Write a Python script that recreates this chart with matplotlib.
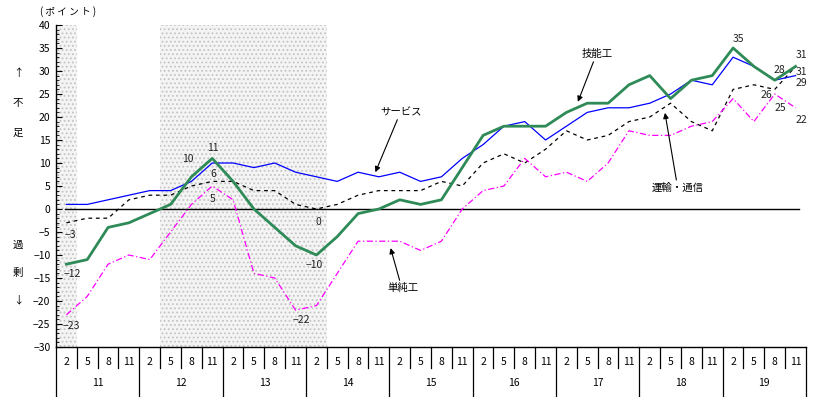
import numpy as np
import matplotlib
matplotlib.use("Agg")
import matplotlib.pyplot as plt

plt.rcParams['font.family'] = ['Noto Sans CJK JP', 'DejaVu Sans']

# quarters: 2011 Feb .. 2019 Nov
months = ['2', '5', '8', '11']
years = ['11', '12', '13', '14', '15', '16', '17', '18', '19']

# 技能工 (skilled workers)
ginou = [-12, -11, -4, -3, -1, 1, 7, 11, 6, 0, -4, -8, -10, -6, -1, 0, 2, 1,
         2, 9, 16, 18, 18, 18, 21, 23, 23, 27, 29, 24, 28, 29, 35, 31, 28, 31]
# サービス
service = [1, 1, 2, 3, 4, 4, 6, 10, 10, 9, 10, 8, 7, 6, 8, 7, 8, 6,
           7, 11, 14, 18, 19, 15, 18, 21, 22, 22, 23, 25, 28, 27, 33, 31, 28, 29]
# 運輸・通信
unyu = [-3, -2, -2, 2, 3, 3, 5, 6, 6, 4, 4, 1, 0, 1, 3, 4, 4, 4,
        6, 5, 10, 12, 10, 13, 17, 15, 16, 19, 20, 23, 19, 17, 26, 27, 26, 31]
# 単純工
tanjun = [-23, -19, -12, -10, -11, -5, 1, 5, 2, -14, -15, -22, -21, -14, -7, -7, -7, -9,
          -7, 0, 4, 5, 11, 7, 8, 6, 10, 17, 16, 16, 18, 19, 24, 19, 25, 22]

# shaded periods (quarter index ranges)
shade = [(0, 0), (5, 12)]

n = len(ginou)
x = np.arange(n)

fig = plt.figure(figsize=(8.2, 3.97), dpi=100)
ax = fig.add_axes([56 / 820, 50 / 397, 750 / 820, 322 / 397])

plt.rcParams['hatch.linewidth'] = 0.8
for a, b in shade:
    ax.axvspan(a - 0.5, b + 0.5, facecolor='#f4f4f4', edgecolor='#c4c4c4',
               hatch='....', lw=0, zorder=0)

ax.plot([-0.05, n - 0.85], [0, 0], color='black', lw=1.0, zorder=1)

ax.plot(x, unyu, color='black', lw=0.9, dashes=(3, 3), zorder=2)
ax.plot(x, tanjun, color='#ff00ff', lw=0.9, dashes=(5, 2, 1, 2), zorder=2)
ax.plot(x, service, color='#0000ff', lw=0.9, zorder=3)
ax.plot(x, ginou, color='#2e8b57', lw=2.0, zorder=4)

ax.set_xlim(-0.5, n - 0.5)
ax.set_ylim(-30, 40)
ax.set_yticks(np.arange(-30, 41, 5))
ax.set_yticks(np.arange(-30, 41, 1), minor=True)
ax.tick_params(axis='y', which='major', direction='in', length=4, width=0.8,
               labelsize=7.5, pad=4)
ax.tick_params(axis='y', which='minor', direction='in', length=2, width=0.6)
ax.set_yticklabels([str(v).replace('-', '−') for v in range(-30, 41, 5)])
ax.set_xticks([])
for s in ['top', 'right']:
    ax.spines[s].set_visible(False)
ax.spines['left'].set_linewidth(1.0)
ax.spines['bottom'].set_linewidth(1.0)

# month / year table below the axis
tr = ax.get_xaxis_transform()
for k in range(n + 1):
    xb = k - 0.5
    bottom = -0.155 if k % 4 == 0 else -0.065
    ax.plot([xb, xb], [0, bottom], color='black', lw=0.9, transform=tr, clip_on=False)
for i in range(n):
    ax.text(i, -0.047, months[i % 4], transform=tr, ha='center', va='center', fontsize=7.5)
for j, yr in enumerate(years):
    ax.text(j * 4 + 1.5, -0.112, yr, transform=tr, ha='center', va='center', fontsize=7.5)


def lab(val, i, dx, dy):
    ax.annotate(str(val).replace('-', '−'), (i, val), xytext=(dx, dy),
                textcoords='offset pixels', ha='center', va='center',
                fontsize=7.5, color='#222222', zorder=6)


lab(unyu[0], 0, 4, -12)
lab(ginou[0], 0, 6, -10)
lab(tanjun[0], 0, 5, -11)
lab(ginou[7], 7, 1, 10)
lab(service[7], 7, -24, 4)
lab(unyu[7], 7, 1, 7)
lab(tanjun[7], 7, 0, -13)
lab(unyu[12], 12, 2, -13)
lab(ginou[12], 12, -2, -10)
lab(tanjun[11], 11, 6, -10)
lab(ginou[32], 32, 5, 9)
lab(ginou[34], 34, 5, 10)
lab(unyu[34], 34, -8, -6)
lab(tanjun[34], 34, 6, -14)
lab(ginou[35], 35, 6, 11)
lab(unyu[35], 35, 6, -6)
lab(service[35], 35, 6, -7)
lab(tanjun[35], 35, 6, -12)

arrow = dict(arrowstyle='-|>', color='black', lw=0.8, mutation_scale=8, shrinkA=0, shrinkB=0)
ax.annotate('サービス', xy=(14.83, 8.0), xytext=(16.04, 21.1), ha='center', va='center',
            fontsize=7.5, arrowprops=dict(arrow, relpos=(0.45, 0)))
ax.annotate('単純工', xy=(15.56, -8.5), xytext=(16.18, -17.2), ha='center', va='center',
            fontsize=7.5, arrowprops=dict(arrow, relpos=(0.4, 1)))
ax.annotate('技能工', xy=(24.55, 23.3), xytext=(25.5, 33.7), ha='center', va='center',
            fontsize=7.5, arrowprops=dict(arrow, relpos=(0.4, 0)))
ax.annotate('運輸・通信', xy=(28.73, 20.9), xytext=(29.35, 4.6), ha='center', va='center',
            fontsize=7.5, arrowprops=dict(arrow, relpos=(0.48, 1)))

fig.text(68 / 820, 1 - 12 / 397, '( ポ イ ン ト )', ha='center', va='center', fontsize=7)
for ch, yp in [('↑', 73), ('不', 103), ('足', 133), ('過', 245), ('剰', 273), ('↓', 300)]:
    fig.text(18 / 820, 1 - yp / 397, ch, ha='center', va='center', fontsize=7.5)

fig.savefig('out.png', dpi=100)
